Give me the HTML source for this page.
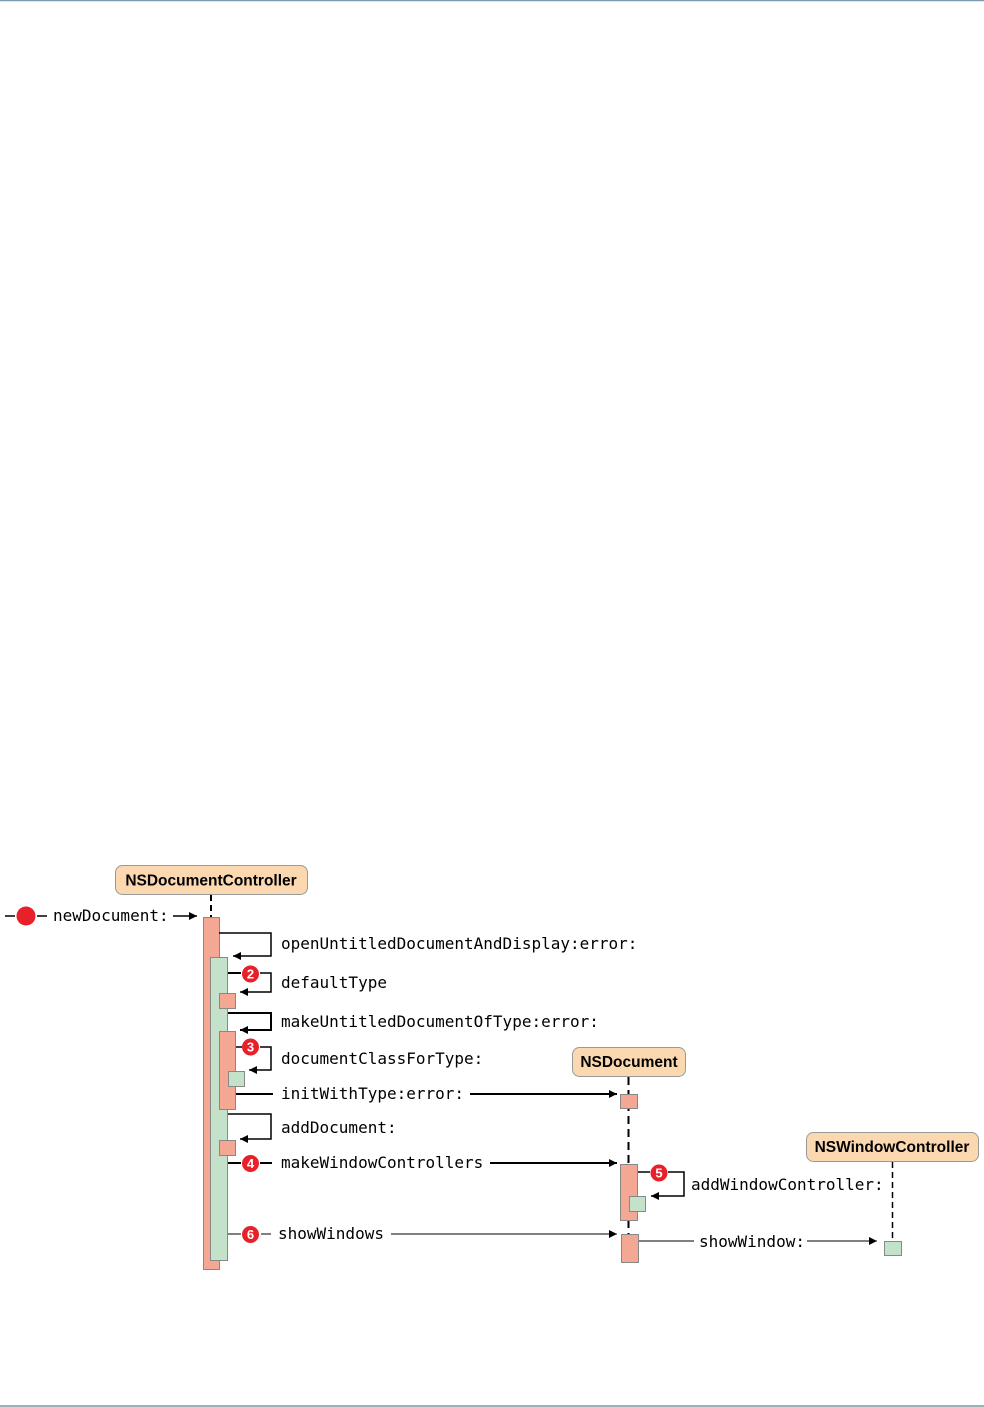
<!DOCTYPE html>
<html><head><meta charset="utf-8"><style>
html,body{margin:0;padding:0;background:#fff;}
svg{display:block;}
.m{font-family:"DejaVu Sans Mono","Liberation Mono",monospace;font-size:16px;fill:#000;}
.b{font-family:"Liberation Sans",Arial,sans-serif;font-weight:bold;font-size:15.5px;fill:#000;}
.bn{font-family:"Liberation Sans",Arial,sans-serif;font-weight:bold;font-size:13px;fill:#fff;}
</style></head><body>
<svg width="984" height="1407" viewBox="0 0 984 1407" xmlns="http://www.w3.org/2000/svg">
<defs>
<marker id="a" viewBox="0 0 10 10" refX="10" refY="5" markerWidth="16" markerHeight="8" markerUnits="userSpaceOnUse" orient="auto"><path d="M0,0 L10,5 L0,10 z" fill="#000"/></marker>
</defs>
<line x1="0" y1="0.5" x2="984" y2="0.5" stroke="#7a9eae" stroke-width="1.5"/>
<line x1="0" y1="1406" x2="984" y2="1406" stroke="#7a9aa0" stroke-width="1.5"/>

<!-- headers -->
<rect x="115.5" y="865.5" width="192" height="29" rx="7" fill="#fbd8b0" stroke="#999"/>
<text class="b" x="211" y="885.5" text-anchor="middle">NSDocumentController</text>
<rect x="572.5" y="1047.5" width="113" height="29" rx="7" fill="#fbd8b0" stroke="#999"/>
<text class="b" x="629" y="1067" text-anchor="middle">NSDocument</text>
<rect x="806.5" y="1132.5" width="172" height="29" rx="7" fill="#fbd8b0" stroke="#999"/>
<text class="b" x="892" y="1152" text-anchor="middle">NSWindowController</text>

<!-- lifelines -->
<line x1="211" y1="895" x2="211" y2="917" stroke="#000" stroke-width="2" stroke-dasharray="6,4"/>
<line x1="628.5" y1="1077" x2="628.5" y2="1164" stroke="#000" stroke-width="2" stroke-dasharray="8,5"/>
<line x1="628.5" y1="1220" x2="628.5" y2="1234" stroke="#000" stroke-width="2" stroke-dasharray="8,5"/>
<line x1="892.5" y1="1162" x2="892.5" y2="1241" stroke="#000" stroke-width="1.5" stroke-dasharray="6,4"/>

<!-- newDocument -->
<line x1="5" y1="916" x2="15" y2="916" stroke="#000" stroke-width="1.5"/>
<circle cx="26" cy="916" r="9.5" fill="#e8202a"/>
<line x1="37" y1="916" x2="47" y2="916" stroke="#000" stroke-width="1.5"/>
<text class="m" x="53" y="921">newDocument:</text>
<line x1="173" y1="916" x2="197" y2="916" stroke="#000" stroke-width="1.5" marker-end="url(#a)"/>

<!-- bars -->
<rect x="203.5" y="917.5" width="16" height="352" fill="#f4a894" stroke="#888"/>
<rect x="210.5" y="957.5" width="17" height="303" fill="#c4e1c9" stroke="#888"/>

<!-- openUntitled -->
<polyline points="219,933 271,933 271,956 233,956" fill="none" stroke="#000" stroke-width="1.5" marker-end="url(#a)"/>
<text class="m" x="281" y="949">openUntitledDocumentAndDisplay:error:</text>

<!-- defaultType -->
<line x1="228" y1="973" x2="241" y2="973" stroke="#000" stroke-width="2"/>
<circle cx="250.5" cy="974" r="8.5" fill="#e8202a"/><text class="bn" x="250.5" y="978.5" text-anchor="middle">2</text>
<polyline points="260,973 271,973 271,992 240,992" fill="none" stroke="#000" stroke-width="1.5" marker-end="url(#a)"/>
<text class="m" x="281" y="988">defaultType</text>
<rect x="219.5" y="993.5" width="16" height="15" fill="#f4a894" stroke="#888"/>

<!-- makeUntitled -->
<polyline points="228,1013 271,1013 271,1030 240,1030" fill="none" stroke="#000" stroke-width="2" marker-end="url(#a)"/>
<text class="m" x="281" y="1027">makeUntitledDocumentOfType:error:</text>
<rect x="219.5" y="1031.5" width="16" height="78" fill="#f4a894" stroke="#888"/>

<!-- documentClassForType -->
<line x1="236" y1="1047" x2="242" y2="1047" stroke="#000" stroke-width="1.5"/>
<circle cx="250.5" cy="1047" r="8.5" fill="#e8202a"/><text class="bn" x="250.5" y="1051.5" text-anchor="middle">3</text>
<polyline points="260,1047 271,1047 271,1070 249,1070" fill="none" stroke="#000" stroke-width="1.5" marker-end="url(#a)"/>
<text class="m" x="281" y="1064">documentClassForType:</text>
<rect x="228.5" y="1071.5" width="16" height="15" fill="#c4e1c9" stroke="#888"/>

<!-- initWithType -->
<line x1="236" y1="1094" x2="273" y2="1094" stroke="#000" stroke-width="2"/>
<text class="m" x="281" y="1099">initWithType:error:</text>
<line x1="470" y1="1094" x2="617" y2="1094" stroke="#000" stroke-width="2" marker-end="url(#a)"/>
<rect x="620.5" y="1094.5" width="17" height="14" fill="#f4a894" stroke="#888"/>

<!-- addDocument -->
<polyline points="228,1114 271,1114 271,1139 240,1139" fill="none" stroke="#000" stroke-width="1.5" marker-end="url(#a)"/>
<text class="m" x="281" y="1133">addDocument:</text>
<rect x="219.5" y="1140.5" width="16" height="15" fill="#f4a894" stroke="#888"/>

<!-- makeWindowControllers -->
<line x1="228" y1="1163" x2="241" y2="1163" stroke="#000" stroke-width="2"/>
<circle cx="250.5" cy="1163.5" r="8.5" fill="#e8202a"/><text class="bn" x="250.5" y="1168" text-anchor="middle">4</text>
<line x1="260" y1="1163" x2="272" y2="1163" stroke="#000" stroke-width="2"/>
<text class="m" x="281" y="1168">makeWindowControllers</text>
<line x1="490" y1="1163" x2="617" y2="1163" stroke="#000" stroke-width="2" marker-end="url(#a)"/>
<rect x="620.5" y="1164.5" width="17" height="56" fill="#f4a894" stroke="#888"/>

<!-- addWindowController -->
<line x1="638" y1="1172" x2="650" y2="1172" stroke="#000" stroke-width="1.5"/>
<circle cx="659" cy="1173" r="8.5" fill="#e8202a"/><text class="bn" x="659" y="1177.5" text-anchor="middle">5</text>
<polyline points="668,1172 684,1172 684,1196 651,1196" fill="none" stroke="#000" stroke-width="1.5" marker-end="url(#a)"/>
<text class="m" x="691" y="1190">addWindowController:</text>
<rect x="629.5" y="1196.5" width="16" height="15" fill="#c4e1c9" stroke="#888"/>

<!-- showWindows -->
<line x1="228" y1="1234" x2="241" y2="1234" stroke="#000" stroke-width="1"/>
<circle cx="250.5" cy="1234.5" r="8.5" fill="#e8202a"/><text class="bn" x="250.5" y="1239" text-anchor="middle">6</text>
<line x1="261" y1="1234" x2="271" y2="1234" stroke="#000" stroke-width="1"/>
<text class="m" x="278" y="1239">showWindows</text>
<line x1="391" y1="1234" x2="617" y2="1234" stroke="#000" stroke-width="1" marker-end="url(#a)"/>
<rect x="621.5" y="1234.5" width="17" height="28" fill="#f4a894" stroke="#888"/>

<!-- showWindow -->
<line x1="639" y1="1241" x2="694" y2="1241" stroke="#000" stroke-width="1"/>
<text class="m" x="699" y="1247">showWindow:</text>
<line x1="807" y1="1241" x2="877" y2="1241" stroke="#000" stroke-width="1" marker-end="url(#a)"/>
<rect x="884.5" y="1241.5" width="17" height="14" fill="#c4e1c9" stroke="#888"/>
</svg>
</body></html>
